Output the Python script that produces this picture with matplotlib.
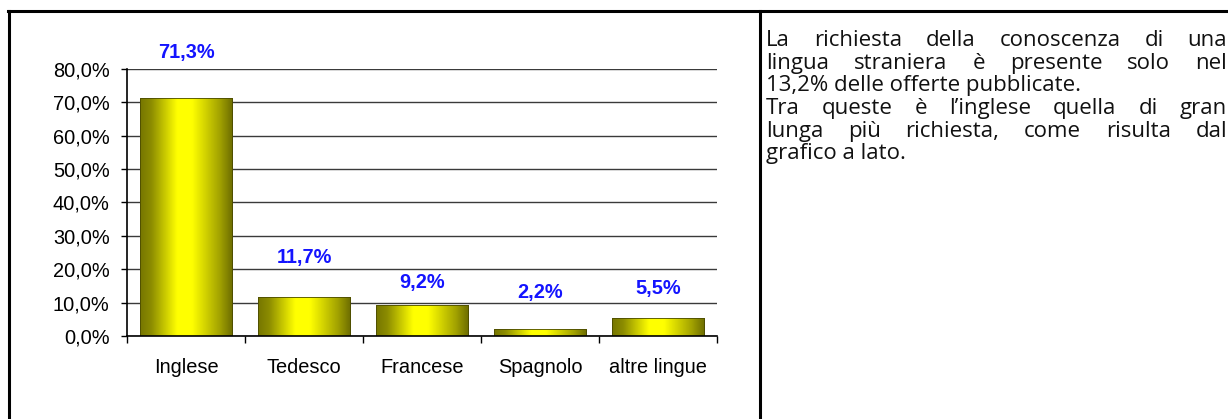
import numpy as np
import matplotlib
matplotlib.use("Agg")
from matplotlib import pyplot as plt
from matplotlib.colors import LinearSegmentedColormap
from matplotlib.lines import Line2D

# chart data
lingue = ["Inglese", "Tedesco", "Francese", "Spagnolo", "altre lingue"]
quote = [71.3, 11.7, 9.2, 2.2, 5.5]
etichette = ["71,3%", "11,7%", "9,2%", "2,2%", "5,5%"]
y_ticks = [0, 10, 20, 30, 40, 50, 60, 70, 80]

# how far above each bar its label sits (data units)
label_offsets = [13.7, 11.7, 6.7, 10.7, 8.6]

testo = [
    ("La richiesta della conoscenza di una", True),
    ("lingua straniera è presente solo nel", True),
    ("13,2% delle offerte pubblicate.", False),
    ("Tra queste è l\u2019inglese quella di gran", True),
    ("lunga più richiesta, come risulta dal", True),
    ("grafico a lato.", False),
]

W, H = 1228, 419
fig = plt.figure(figsize=(W / 100, H / 100), dpi=100)
fig.patch.set_facecolor("white")

def fx(px):
    return px / W

def fy(py):
    return 1 - py / H

# chart area
ax = fig.add_axes([fx(127), fy(336), fx(717) - fx(127), fy(69) - fy(336)])

grad = LinearSegmentedColormap.from_list(
    "oliva", [(0, "#767600"), (0.12, "#8c8c00"), (0.40, "#ffff00"),
              (0.56, "#ffff00"), (0.86, "#a2a200"), (1, "#6c6c00")])
g = np.linspace(0, 1, 256).reshape(1, -1)

xpos = np.arange(len(lingue)) + 0.5
bars = ax.bar(xpos, quote, width=0.78, color="none", edgecolor="#4a4a00",
              linewidth=0.6, zorder=3)
for b in bars:
    im = ax.imshow(g, cmap=grad, aspect="auto", zorder=2,
                   extent=(b.get_x(), b.get_x() + b.get_width(), 0, b.get_height()))
    im.set_clip_path(b)
ax.set_xlim(0, len(lingue))
ax.set_ylim(0, 80)

for x, v, lab, off in zip(xpos, quote, etichette, label_offsets):
    ax.text(x, v + off, lab, ha="center", va="center", color="#1414ff",
            fontsize=14.4, fontweight="bold", family="Liberation Sans",
            clip_on=False)

ax.set_yticks(y_ticks)
ax.set_yticklabels([f"{t:.1f}%".replace(".", ",") for t in y_ticks],
                   fontsize=14.4, family="Liberation Sans")
ax.set_xticks(np.arange(len(lingue) + 1))
ax.set_xticklabels([])
ax.set_xticks(xpos, minor=True)
ax.set_xticklabels(lingue, minor=True, fontsize=14.4, family="Liberation Sans")
ax.tick_params(axis="x", which="major", direction="out", length=5, width=1)
ax.tick_params(axis="x", which="minor", length=0, pad=16)
ax.tick_params(axis="y", direction="out", length=4.5, width=1, pad=8)
ax.yaxis.grid(True, color="#3a3a3a", linewidth=1)
ax.set_axisbelow(True)
for s in ["top", "right"]:
    ax.spines[s].set_visible(False)
for s in ["left", "bottom"]:
    ax.spines[s].set_linewidth(1.2)
    ax.spines[s].set_zorder(4)
ax.set_facecolor("none")

# table borders
for xs, ys in [((8, W), (11, 11)), ((9, 9), (11, H)), ((760, 760), (11, H))]:
    fig.add_artist(Line2D([fx(x) for x in xs], [fy(y) for y in ys],
                          color="black", linewidth=2.2,
                          transform=fig.transFigure))

# justified paragraph on the right
x_left, x_right = 766, 1227
y0, dy = 46, 22.7
fs = 16
fig.canvas.draw()
r = fig.canvas.get_renderer()

# shrink the font if a justified line would not fit with some space left
def larghezze(parole, size):
    objs = [fig.text(0, 0, p, fontsize=size, family="Open Sans") for p in parole]
    w = [o.get_window_extent(renderer=r).width for o in objs]
    for o in objs:
        o.remove()
    return w

for riga, giust in testo:
    if giust:
        parole = riga.split(" ")
        tot = sum(larghezze(parole, fs)) + 5 * (len(parole) - 1)
        if tot > x_right - x_left:
            fs = fs * (x_right - x_left) / tot

tfont = dict(fontsize=fs, family="Open Sans", va="baseline", color="#111111")
for i, (riga, giust) in enumerate(testo):
    yy = fy(y0 + i * dy)
    if not giust:
        fig.text(fx(x_left), yy, riga, ha="left", **tfont)
        continue
    parole = riga.split(" ")
    objs = [fig.text(0, yy, p, ha="left", **tfont) for p in parole]
    larg = [o.get_window_extent(renderer=r).width for o in objs]
    gap = (x_right - x_left - sum(larg)) / (len(parole) - 1)
    x = x_left
    for o, w in zip(objs, larg):
        o.set_x(fx(x))
        x += w + gap

fig.savefig("out.png", dpi=100, facecolor="white")
